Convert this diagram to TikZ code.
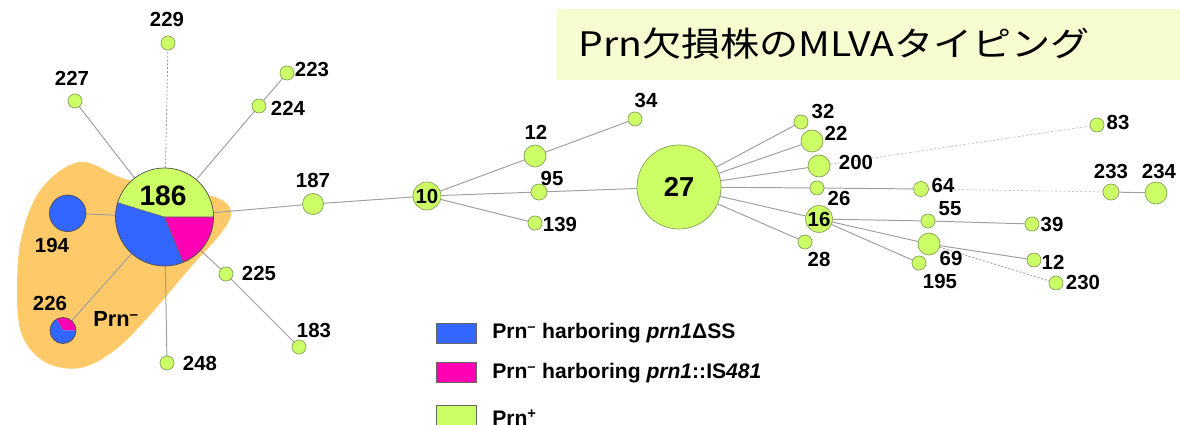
\documentclass[tikz,border=0pt]{standalone}
\usepackage{fontspec}
\setmainfont{Liberation Sans}
\newfontfamily\jpfont[CharacterWidth=Proportional]{Noto Sans CJK JP}
\pgfdeclarelayer{blob}
\pgfdeclarelayer{edges}
\pgfsetlayers{blob,edges,main}
\definecolor{pgreen}{RGB}{204,255,102}
\definecolor{pblue}{RGB}{51,102,255}
\definecolor{pmag}{RGB}{255,0,180}
\definecolor{ndraw}{RGB}{135,160,90}
\definecolor{egray}{RGB}{160,160,160}
\definecolor{blobc}{RGB}{254,201,104}
\definecolor{titlebg}{RGB}{246,252,207}
\begin{document}
\begin{tikzpicture}[x=0.025cm,y=-0.025cm,
  nd/.style={circle,draw=ndraw,fill=pgreen,line width=0.5pt,inner sep=0pt,outer sep=0pt,minimum size=#1*0.25mm},
  pienode/.style={circle,draw=black!70,line width=0.5pt,inner sep=0pt,outer sep=0pt,minimum size=#1*0.25mm},
  lb/.style={font=\fontsize{14.5}{16}\selectfont\bfseries,inner sep=0pt},
  ed/.style={draw=egray,line width=0.7pt},
  dl/.style={draw=egray,line width=0.6pt,dash pattern=on 1.5pt off 1.2pt},
  ldl/.style={draw=egray!60,line width=0.6pt,dash pattern=on 1.5pt off 1.5pt},
  legbox/.style={rectangle,draw=black!60,line width=0.6pt,minimum width=10mm,minimum height=5mm,inner sep=0pt},
  legtxt/.style={font=\fontsize{15}{17}\selectfont\bfseries,inner sep=0pt,anchor=base west}]
\useasboundingbox (0,0) rectangle (1180,425);
\clip (0,0) rectangle (1180,425);

% title
\fill[titlebg] (557,9) rectangle (1180,80);
\node[anchor=base west,inner sep=0pt,font=\jpfont\fontsize{24}{28}\selectfont] (title) at (578,57) {\scalebox{1.16}[1]{Prn欠損株のMLVAタイピング}};

% blob
\begin{pgfonlayer}{blob}
\fill[blobc] plot[smooth cycle,tension=0.6] coordinates {(80,162) (122,178) (170,190) (215,197) (231,211) (222,232) (190,268) (150,315) (115,350) (80,368) (45,362) (22,335) (17,290) (22,235) (42,188)};
\end{pgfonlayer}

% pie 186
\coordinate (c186) at (164.5,217);
\fill[pgreen] (c186) -- +(0:49) arc[start angle=0,end angle=-163,radius=49] -- cycle;
\fill[pblue] (c186) -- +(-163:49) arc[start angle=-163,end angle=-292.5,radius=49] -- cycle;
\fill[pmag] (c186) -- +(-292.5:49) arc[start angle=-292.5,end angle=-360,radius=49] -- cycle;
\draw[black!60,line width=0.4pt] (c186) -- +(-163:49) (c186) -- +(-292.5:49) (c186) -- +(0:49);
\node[pienode=98] (n186) at (c186) {};
\node[font=\fontsize{20}{22}\selectfont\bfseries,inner sep=0pt] (t186) at (163,196) {186};

% pie 226
\coordinate (c226) at (63,330.5);
\fill[pmag] (c226) -- +(0:13) arc[start angle=0,end angle=-120,radius=13] -- cycle;
\fill[pblue] (c226) -- +(-120:13) arc[start angle=-120,end angle=-360,radius=13] -- cycle;
\node[pienode=26] (n226) at (c226) {};
\node[pienode=36.5,fill=pblue] (n194) at (67.7,213.3) {};

% green nodes
\node[nd=14] (n229) at (168,43) {};
\node[nd=14] (n227) at (75,101) {};
\node[nd=14] (n223) at (287,73) {};
\node[nd=14] (n224) at (259,106) {};
\node[nd=14] (n225) at (226,274) {};
\node[nd=14] (n183) at (299,347) {};
\node[nd=14] (n248) at (167,363) {};
\node[nd=21] (n187) at (313,204) {};
\node[nd=28,font=\fontsize{14.5}{16}\selectfont\bfseries] (n10) at (427,196) {10};
\node[nd=22] (n12) at (535,156) {};
\node[nd=14] (n34) at (635,119) {};
\node[nd=16] (n95) at (539,192) {};
\node[nd=14] (n139) at (535,223) {};
\node[nd=84,font=\fontsize{19.5}{21}\selectfont\bfseries] (n27) at (679,187) {27};
\node[nd=14] (n32) at (801,122) {};
\node[nd=22] (n22) at (812,141) {};
\node[nd=22] (n200) at (819,166) {};
\node[nd=14] (n26) at (817,188) {};
\node[nd=26,font=\fontsize{14.5}{16}\selectfont\bfseries] (n16) at (819,219) {16};
\node[nd=14] (n28) at (805,242) {};
\node[nd=15] (n64) at (921,189) {};
\node[nd=14] (n83) at (1097,125) {};
\node[nd=16] (n233) at (1111,192) {};
\node[nd=22] (n234) at (1156,193) {};
\node[nd=14] (n55) at (928,221) {};
\node[nd=14] (n39) at (1032,224) {};
\node[nd=22] (n69) at (929,244) {};
\node[nd=14] (n195) at (919,263) {};
\node[nd=14] (n12b) at (1034,260) {};
\node[nd=14] (n230) at (1056,283) {};

% labels
\node[lb] (l229) at (167,19) {229};
\node[lb] (l227) at (72,78) {227};
\node[lb] (l223) at (312,70) {223};
\node[lb] (l224) at (288,108) {224};
\node[lb] (l194) at (52,245) {194};
\node[lb] (l226) at (50,303) {226};
\node[lb] (l225) at (259,273) {225};
\node[lb] (l183) at (314,330) {183};
\node[lb] (l248) at (200,363) {248};
\node[lb] (l187) at (313,180) {187};
\node[lb] (l12) at (536,132) {12};
\node[lb] (l34) at (646,101) {34};
\node[lb] (l95) at (552,178) {95};
\node[lb] (l139) at (560,225) {139};
\node[lb] (l32) at (823,112) {32};
\node[lb] (l22) at (836,133) {22};
\node[lb] (l200) at (856,162) {200};
\node[lb] (l26) at (839,198) {26};
\node[lb] (l28) at (819,259) {28};
\node[lb] (l64) at (943,185) {64};
\node[lb] (l83) at (1118,123) {83};
\node[lb] (l233) at (1111,171) {233};
\node[lb] (l234) at (1159,172) {234};
\node[lb] (l55) at (950,209) {55};
\node[lb] (l39) at (1052,224) {39};
\node[lb] (l69) at (951,258) {69};
\node[lb] (l195) at (940,281) {195};
\node[lb] (l12b) at (1053,262) {12};
\node[lb] (l230) at (1083,283) {230};
\node[anchor=base west,inner sep=0pt,font=\fontsize{15.5}{17}\selectfont\bfseries] (lprn) at (93,327) {Prn\textsuperscript{–}};

% edges
\begin{pgfonlayer}{edges}
\draw[dl] (n186) -- (n229);
\draw[ed] (n186) -- (n227);
\draw[ed] (n186) -- (n224);
\draw[ed] (n224) -- (n223);
\draw[ed] (n186) -- (n194);
\draw[ed] (n186) -- (n226);
\draw[ed] (n186) -- (n225);
\draw[ed] (n225) -- (n183);
\draw[ed] (n186) -- (n248);
\draw[ed] (n186) -- (n187);
\draw[ed] (n187) -- (n10);
\draw[ed] (n10) -- (n12);
\draw[ed] (n12) -- (n34);
\draw[ed] (n10) -- (n95);
\draw[ed] (n95) -- (n27);
\draw[ed] (n10) -- (n139);
\draw[ed] (n27) -- (n32);
\draw[ed] (n27) -- (n22);
\draw[ed] (n27) -- (n200);
\draw[ed] (n27) -- (n26);
\draw[ed] (n26) -- (n64);
\draw[ed] (n27) -- (n16);
\draw[ed] (n27) -- (n28);
\draw[ldl] (n200) -- (n83);
\draw[ldl] (n64) -- (n233);
\draw[ed] (n233) -- (n234);
\draw[ed] (n16) -- (n55);
\draw[ed] (n55) -- (n39);
\draw[ed] (n16) -- (n69);
\draw[ed] (n69) -- (n12b);
\draw[ed] (n16) -- (n195);
\draw[dl] (n69) -- (n230);
\end{pgfonlayer}

% legend
\node[legbox,fill=pblue] (lb1) at (456,333) {};
\node[legbox,fill=pmag] (lb2) at (456,372) {};
\node[legbox,fill=pgreen] (lb3) at (456,415) {};
\node[legtxt] (lt1) at (492,339) {Prn\textsuperscript{–} harboring \textit{prn1}ΔSS};
\node[legtxt] (lt2) at (492,379) {Prn\textsuperscript{–} harboring \textit{prn1}::IS\textit{481}};
\node[legtxt] (lt3) at (492,426) {Prn\textsuperscript{+}};
\end{tikzpicture}
\end{document}
